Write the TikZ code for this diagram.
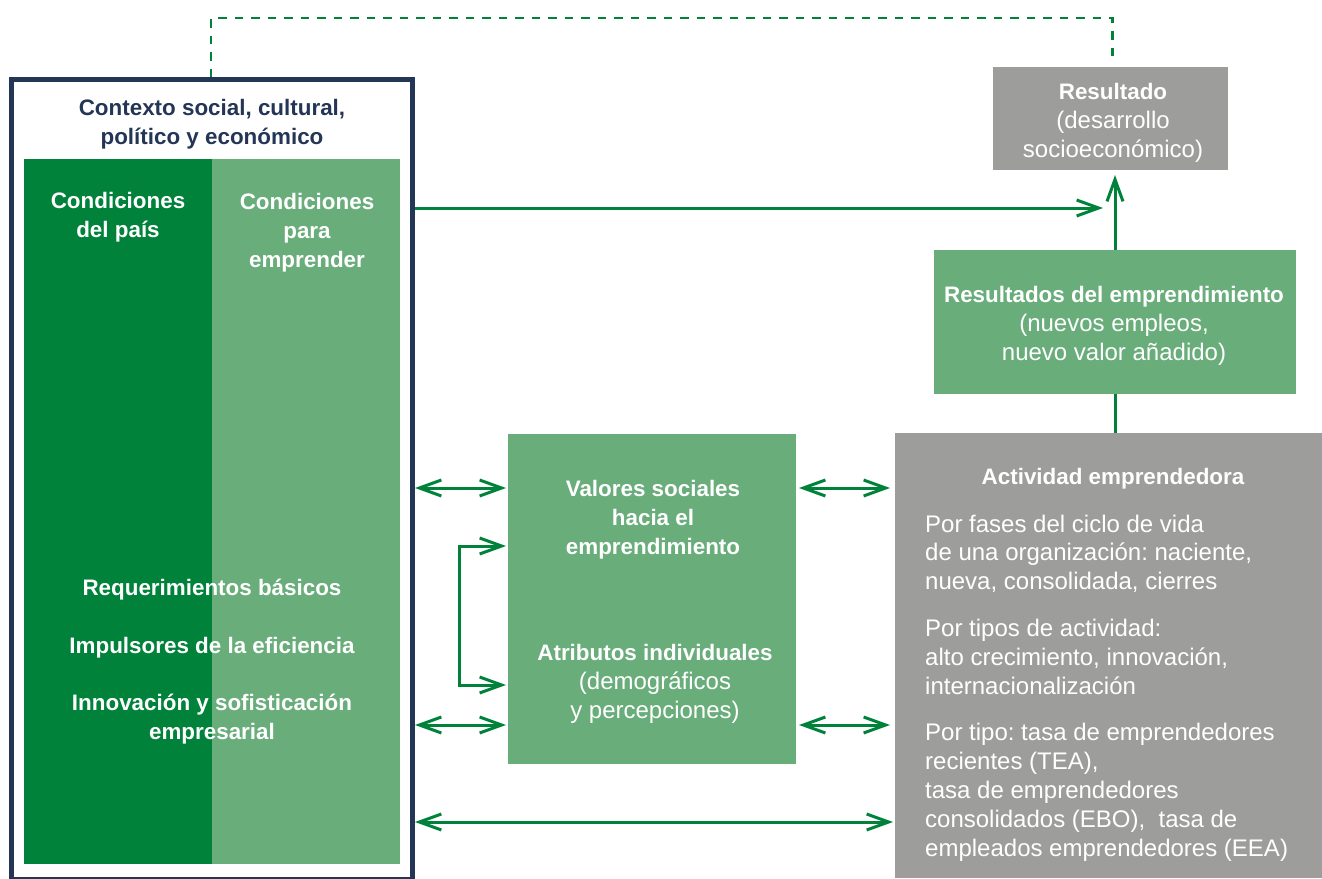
\documentclass[tikz,border=0pt]{standalone}
\usepackage{fontspec}
\setmainfont{Liberation Sans}
\usetikzlibrary{arrows.meta}
\definecolor{gemnavy}{HTML}{243656}
\definecolor{gemdark}{HTML}{00823A}
\definecolor{gemlight}{HTML}{69AD7B}
\definecolor{gemgray}{HTML}{9D9D9C}
\newcommand\hd[1]{{\fontsize{22.4}{28.8}\selectfont\bfseries #1}}
\frenchspacing

\begin{document}
\begin{tikzpicture}[x=1pt,y=1pt,
  >={Straight Barb[length=22pt,width=16pt]},
  box/.style={inner sep=0pt,outer sep=0pt,fill=#1},
  txt/.style={text=white,align=center,font=\fontsize{24}{28.8}\selectfont},
  link/.style={draw=gemdark,line width=3pt}]
\tikzstyle{every node}+=[inner sep=0pt]
\useasboundingbox (0,0) rectangle (1322,-878);
\node[draw=gemnavy,line width=5pt,minimum width=400.75,minimum height=800] (ctx) at (212.1,-479.5) {};
\node[box=gemdark,minimum width=188,minimum height=705] (pais) at (118,-511.5) {};
\node[box=gemlight,minimum width=188,minimum height=705] (cond) at (306,-511.5) {};
\node[box=gemgray,minimum width=235,minimum height=103] (res) at (1110.5,-118.5) {};
\node[box=gemlight,minimum width=362,minimum height=144] (resemp) at (1115,-322) {};
\node[box=gemgray,minimum width=427,minimum height=445] (act) at (1108.5,-655.5) {};
\node[box=gemlight,minimum width=288,minimum height=330] (val) at (652,-599) {};
\node[txt,text=gemnavy,anchor=base] (ctxtxt) at (212,-144) {\hd{Contexto social, cultural,}\\\hd{político y económico}};
\node[txt,anchor=base] (paistxt) at (118,-237) {\hd{Condiciones}\\\hd{del país}};
\node[txt,anchor=base] (condtxt) at (307,-267) {\hd{Condiciones}\\\hd{para}\\\hd{emprender}};
\node[txt,anchor=base] (req) at (212,-595) {\hd{Requerimientos básicos}};
\node[txt,anchor=base] (imp) at (212,-653) {\hd{Impulsores de la eficiencia}};
\node[txt,anchor=base] (inn) at (212,-739) {\hd{Innovación y sofisticación}\\\hd{empresarial}};
\node[txt,anchor=base] (restxt) at (1113,-157) {\hd{Resultado}\\(desarrollo\\socioeconómico)};
\node[txt,anchor=base] (resemptxt) at (1114,-360) {\hd{Resultados del emprendimiento}\\(nuevos empleos,\\nuevo valor añadido)};
\node[txt,anchor=base] (acttit) at (1113,-484) {\hd{Actividad emprendedora}};
\node[txt,align=left,anchor=base west] (acttxt) at (925,-856) {Por fases del ciclo de vida\\de una organización: naciente,\\nueva, consolidada, cierres\\[18pt]Por tipos de actividad:\\alto crecimiento, innovación,\\internacionalización\\[18pt]Por tipo: tasa de emprendedores\\recientes (TEA),\\tasa de emprendedores\\consolidados (EBO),~ tasa de\\empleados emprendedores (EEA)};
\node[txt,anchor=base] (valtxt) at (653,-554) {\hd{Valores sociales}\\\hd{hacia el}\\\hd{emprendimiento}};
\node[txt,anchor=base] (atrtxt) at (655,-718) {\hd{Atributos individuales}\\(demográficos\\y percepciones)};
\coordinate (dtop) at (211,-18);
\coordinate (hy) at (0,-208);
\coordinate (a1) at (0,-488);
\coordinate (a2) at (0,-725);
\coordinate (a3) at (0,-822);
\coordinate (b1) at (459,-546);
\coordinate (b2) at (459,-685);
\draw[gemdark,line width=2.2pt,dash pattern=on 8.5pt off 8pt] (ctx.north -| dtop) -- (dtop) -| ([shift={(2,7)}]res.north);
\draw[link,->,shorten >=7.5pt] (ctx.east |- hy) -- (res.south |- hy);
\draw[link,->,shorten >=5pt] (resemp.north) -- (resemp.north |- res.south);
\draw[link] (act.north -| resemp.south) -- (resemp.south);
\draw[link,<->,shorten >=2pt] (ctx.east |- a1) -- (val.west |- a1);
\draw[link,<->,shorten <=3pt,shorten >=5pt] (val.east |- a1) -- (act.west |- a1);
\draw[link,<->,shorten >=2pt] (ctx.east |- a2) -- (val.west |- a2);
\draw[link,<->,shorten <=3pt,shorten >=5pt] (val.east |- a2) -- (act.west |- a2);
\draw[link,<->,shorten >=2pt] (ctx.east |- a3) -- (act.west |- a3);
\draw[link,<->,shorten <=2pt,shorten >=2pt] (val.west |- b1) -- (b1) -- (b2) -- (val.west |- b2);
\end{tikzpicture}
\end{document}
